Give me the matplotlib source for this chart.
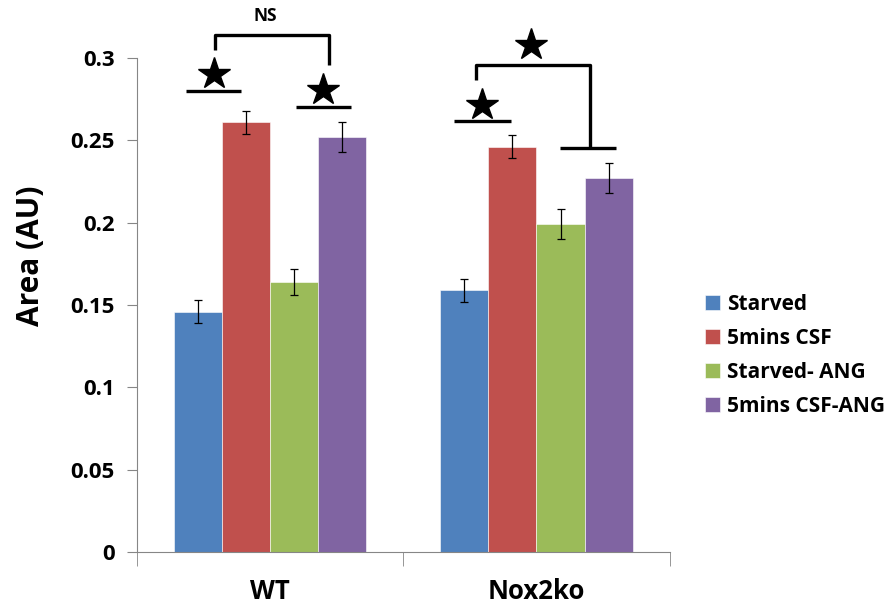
import numpy as np
import matplotlib.pyplot as plt
from matplotlib.ticker import FixedLocator

# Data
groups = ['WT', 'Nox2ko']
series = ['Starved', '5mins CSF', 'Starved- ANG', '5mins CSF-ANG']
colors = ['#4F81BD', '#C0504D', '#9BBB59', '#8064A2']
values = [[0.146, 0.159],
          [0.261, 0.246],
          [0.164, 0.199],
          [0.252, 0.227]]
errors = [[0.007, 0.007],
          [0.007, 0.007],
          [0.008, 0.009],
          [0.009, 0.009]]

plt.rcParams['font.family'] = ['Open Sans', 'DejaVu Sans']
plt.rcParams['font.weight'] = 'bold'

fig = plt.figure(figsize=(8.94, 6.09), dpi=100)
ax = fig.add_axes([0.153, 0.0936, 0.596, 0.8112])

x = np.arange(len(groups))
width = 0.181
offsets = [-1.5, -0.5, 0.5, 1.5]
for i in range(len(series)):
    ax.bar(x + offsets[i] * width, values[i], width, color=colors[i],
           label=series[i], edgecolor='white', linewidth=0.4,
           yerr=errors[i], error_kw=dict(ecolor='black', elinewidth=0.9, capsize=3, capthick=0.9))

ax.set_xlim(-0.5, 1.5)
ax.set_ylim(0, 0.3)
ax.set_yticks([0, 0.05, 0.1, 0.15, 0.2, 0.25, 0.3])
ax.set_yticklabels(['0', '0.05', '0.1', '0.15', '0.2', '0.25', '0.3'], fontsize=16, fontweight='bold')
ax.set_xticks(x)
ax.set_xticklabels(groups, fontsize=18.5, fontweight='bold')
ax.tick_params(axis='x', length=0, pad=19)
ax.xaxis.set_minor_locator(FixedLocator([-0.5, 0.5, 1.5]))
ax.tick_params(axis='x', which='minor', length=10, color='#868686', direction='out')
ax.tick_params(axis='y', length=7, color='#868686', direction='out', pad=9)
for s in ['top', 'right']:
    ax.spines[s].set_visible(False)
for s in ['left', 'bottom']:
    ax.spines[s].set_color('#868686')
ax.set_ylabel('Area (AU)', fontsize=21.5, fontweight='bold')
ax.yaxis.set_label_coords(-0.17, 0.60)

# significance annotations (data coords)
lw = 2.4
def line(xs, ys):
    ax.plot(xs, ys, color='black', lw=lw, clip_on=False, solid_capstyle='butt')

def star(xp, yp):
    ax.plot([xp], [yp], marker='*', markersize=24, color='black', clip_on=False)

# WT
line([-0.316, -0.109], [0.2797, 0.2797])
star(-0.211, 0.290)
line([0.098, 0.305], [0.270, 0.270])
star(0.200, 0.2805)
line([-0.207, -0.207, 0.222, 0.222], [0.305, 0.3138, 0.3138, 0.296])
ax.text(-0.019, 0.3255, 'NS', ha='center', va='center', fontsize=12.5, fontweight='bold')

# Nox2ko
line([0.692, 0.905], [0.2615, 0.2615])
star(0.797, 0.2716)
line([0.774, 0.774, 1.203, 1.203], [0.2867, 0.296, 0.296, 0.2454])
line([1.09, 1.30], [0.2454, 0.2454])
star(0.981, 0.308)

fig.legend(loc='upper left', bbox_to_anchor=(0.768, 0.548), frameon=False,
           prop=dict(size=15, weight='bold'), handlelength=0.7, handleheight=0.7,
           handletextpad=0.35, labelspacing=0.62)

fig.savefig('out.png', dpi=100)
